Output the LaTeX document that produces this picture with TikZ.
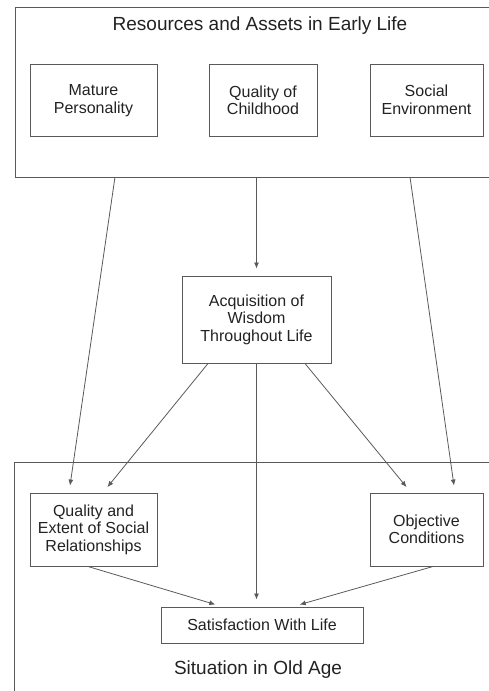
\documentclass[tikz,border=0pt]{standalone}
\usepackage{fontspec}
\setmainfont{Liberation Sans}
\usepackage{xcolor}
\usetikzlibrary{arrows.meta,positioning,calc}
\definecolor{FrameGrey}{HTML}{595959}
\definecolor{Ink}{HTML}{222222}

\begin{document}
\begin{tikzpicture}[x=1pt,y=-1pt]
  \path[use as bounding box] (0,0) rectangle (488,691);
  \tikzset{
    lifeFrame/.style={
      draw=FrameGrey, line width=1pt, inner sep=0pt
    },
    lifeBox/.style={
      draw=FrameGrey, line width=1pt, align=center, inner sep=2pt,
      minimum height=72pt, text=Ink,
      font=\fontsize{16}{17.5}\selectfont
    },
    lifeTitle/.style={
      text=Ink, font=\fontsize{19}{21}\selectfont
    },
    lifeFlow/.style={
      -{Latex[length=6pt,width=5pt]}, draw=FrameGrey,
      line width=.8pt, shorten >=7pt
    }
  }

  % early life
  \node[lifeFrame, minimum width=486pt, minimum height=170pt] (early) at (258,92) {};
  \node[lifeTitle] (earlytitle) at (260,26) {Resources and Assets in Early Life};
  \node[lifeBox, minimum width=127pt] (mature) at (93.5,100.5)
    {Mature\\Personality};
  \node[lifeBox, minimum width=108pt] (childhood) at (263,100.5)
    {Quality of\\Childhood};
  \node[lifeBox, minimum width=113pt] (socialenv) at (426.5,100)
    {Social\\Environment};

  % middle
  \node[lifeBox, minimum width=149pt, minimum height=87pt] (wisdom) at (256.5,319.5)
    {Acquisition of\\Wisdom\\Throughout Life};

  % old age
  \node[lifeFrame, minimum width=486pt, minimum height=240pt] (oldage) at (257,582) {};
  \node[lifeBox, minimum width=127pt, minimum height=73pt] (relations) at (93.5,529.5)
    {Quality and\\Extent of Social\\Relationships};
  \node[lifeBox, minimum width=113pt, minimum height=73pt] (objective) at (426.5,529.5)
    {Objective\\Conditions};
  \node[lifeBox, minimum width=202pt, minimum height=36pt] (satisfaction) at (262,625)
    {Satisfaction With Life};
  \node[lifeTitle] (oldtitle) at (258,670) {Situation in Old Age};

  \coordinate (outL) at (115,177);
  \coordinate (outR) at (410,177);

  \draw[lifeFlow] (outL) -- ([xshift=-24.5pt]relations.north);
  \draw[lifeFlow] (wisdom.north |- early.south) -- (wisdom.north);
  \draw[lifeFlow] (outR) -- ([xshift=28.5pt]objective.north);
  \draw[lifeFlow] ([xshift=-48.5pt]wisdom.south) -- ([xshift=9.5pt]relations.north);
  \draw[lifeFlow] ([xshift=48.5pt]wisdom.south) -- ([xshift=-15.5pt]objective.north);
  \draw[lifeFlow] (wisdom.south) -- (wisdom.south |- satisfaction.north);
  \draw[lifeFlow] ([xshift=-5.5pt]relations.south) -- ([xshift=-40pt]satisfaction.north);
  \draw[lifeFlow] ([xshift=6.5pt]objective.south) -- ([xshift=31pt]satisfaction.north);
\end{tikzpicture}
\end{document}
